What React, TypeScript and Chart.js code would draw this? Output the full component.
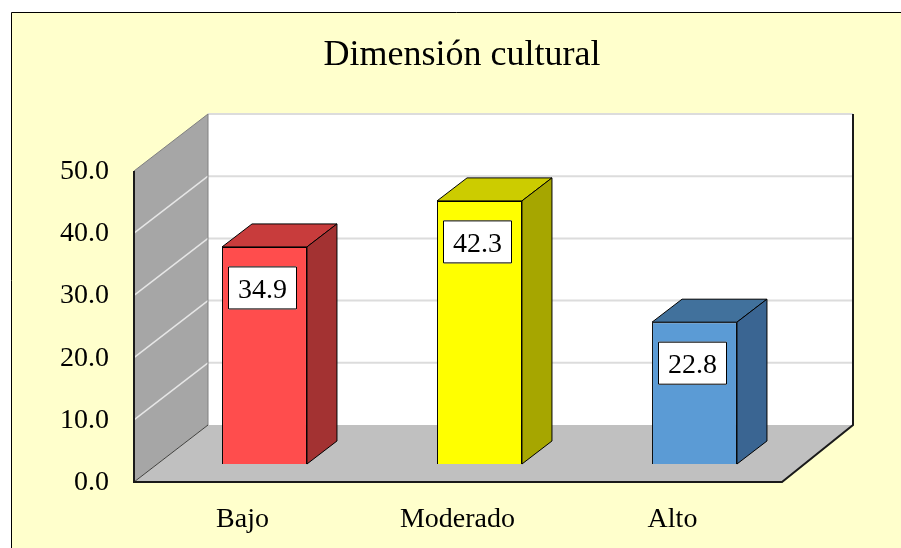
import React, { useEffect, useRef } from "react";
import { Chart, registerables } from "chart.js";

Chart.register(...registerables);

const TITLE = "Dimensión cultural";
const categories = ["Bajo", "Moderado", "Alto"];
const values = [34.9, 42.3, 22.8];
const yTicks = [0, 10, 20, 30, 40, 50];
const frontColors = ["#FF4D4D", "#FFFF00", "#5B9BD5"];
const topColors = ["#C83C3C", "#CCCC00", "#41719C"];
const sideColors = ["#A33232", "#A6A600", "#3A6592"];

const FONT = '"Times New Roman", "Liberation Serif", serif';
// depth offsets relative to the bar front plane
const FX = -23, FY = 18; // to front plane
const BX = 51, BY = -39; // to back wall plane
const DBX = 30, DBY = -23; // bar depth

const scenePlugin = {
  id: "scene3d",
  beforeDraw(chart: any) {
    const { ctx, width, height } = chart;
    ctx.save();
    ctx.fillStyle = "#FFFFFF";
    ctx.fillRect(0, 0, width, height);
    ctx.fillStyle = "#FFFFCC";
    ctx.fillRect(11, 12, width - 11, height - 12);
    ctx.strokeStyle = "#000";
    ctx.lineWidth = 1;
    ctx.beginPath();
    ctx.moveTo(11.5, height);
    ctx.lineTo(11.5, 12.5);
    ctx.lineTo(width, 12.5);
    ctx.stroke();
    ctx.fillStyle = "#000";
    ctx.font = `36px ${FONT}`;
    ctx.textAlign = "center";
    ctx.textBaseline = "alphabetic";
    ctx.fillText(TITLE, 462, 65);
    ctx.restore();
  },
  beforeDatasetsDraw(chart: any) {
    const { ctx, chartArea } = chart;
    const ys = chart.scales.y;
    const L = chartArea.left, R = chartArea.right;
    const yF = (v: number) => ys.getPixelForValue(v) + FY;
    const yB = (v: number) => ys.getPixelForValue(v) + BY;
    const xFL = L + FX, xFR = R + FX + 3;
    const xBL = L + BX, xBR = R + BX;
    const vMax = yTicks[yTicks.length - 1];
    ctx.save();
    // back wall
    ctx.fillStyle = "#FFFFFF";
    ctx.fillRect(xBL, yB(vMax), xBR - xBL, yB(0) - yB(vMax));
    ctx.lineWidth = 2;
    ctx.strokeStyle = "#DCDCDC";
    for (const v of yTicks) {
      if (v === 0) continue;
      ctx.beginPath();
      ctx.moveTo(xBL, yB(v));
      ctx.lineTo(xBR, yB(v));
      ctx.stroke();
    }
    // left wall
    ctx.fillStyle = "#A6A6A6";
    ctx.beginPath();
    ctx.moveTo(xFL, yF(vMax));
    ctx.lineTo(xBL, yB(vMax));
    ctx.lineTo(xBL, yB(0));
    ctx.lineTo(xFL, yF(0));
    ctx.closePath();
    ctx.fill();
    ctx.strokeStyle = "#E6E6E6";
    ctx.lineWidth = 1.5;
    for (const v of yTicks) {
      if (v === 0 || v === vMax) continue;
      ctx.beginPath();
      ctx.moveTo(xFL, yF(v));
      ctx.lineTo(xBL, yB(v));
      ctx.stroke();
    }
    ctx.strokeStyle = "#808080";
    ctx.lineWidth = 1;
    ctx.beginPath();
    ctx.moveTo(xFL, yF(vMax));
    ctx.lineTo(xBL, yB(vMax));
    ctx.lineTo(xBL, yB(0));
    ctx.stroke();
    // floor
    ctx.fillStyle = "#C0C0C0";
    ctx.beginPath();
    ctx.moveTo(xFL, yF(0));
    ctx.lineTo(xFR, yF(0));
    ctx.lineTo(xBR, yB(0));
    ctx.lineTo(xBL, yB(0));
    ctx.closePath();
    ctx.fill();
    ctx.strokeStyle = "#404040";
    ctx.lineWidth = 1;
    ctx.beginPath();
    ctx.moveTo(xFL, yF(0));
    ctx.lineTo(xBL, yB(0));
    ctx.stroke();
    // outlines
    ctx.strokeStyle = "#1A1A1A";
    ctx.lineWidth = 2;
    ctx.beginPath();
    ctx.moveTo(xFL, yF(vMax));
    ctx.lineTo(xFL, yF(0));
    ctx.lineTo(xFR, yF(0));
    ctx.lineTo(xBR, yB(0));
    ctx.lineTo(xBR, yB(vMax));
    ctx.stroke();
    // tick labels
    ctx.fillStyle = "#000";
    ctx.font = `28px ${FONT}`;
    ctx.textAlign = "right";
    ctx.textBaseline = "alphabetic";
    for (const v of yTicks) {
      ctx.fillText(v.toFixed(1), 109, yF(v) + 8);
    }
    // category labels
    const xs = chart.scales.x;
    ctx.textAlign = "center";
    categories.forEach((c, i) => {
      ctx.fillText(c, xs.getPixelForValue(i) + FX + 1, 527);
    });
    ctx.restore();
  },
  afterDatasetsDraw(chart: any) {
    const { ctx } = chart;
    const meta = chart.getDatasetMeta(0);
    ctx.save();
    ctx.lineWidth = 1;
    ctx.strokeStyle = "#000";
    ctx.lineJoin = "round";
    meta.data.forEach((bar: any, i: number) => {
      const { x, y, base, width } = bar.getProps(["x", "y", "base", "width"], true);
      const l = x - width / 2, r = x + width / 2;
      // top face
      ctx.fillStyle = topColors[i];
      ctx.beginPath();
      ctx.moveTo(l, y);
      ctx.lineTo(l + DBX, y + DBY);
      ctx.lineTo(r + DBX, y + DBY);
      ctx.lineTo(r, y);
      ctx.closePath();
      ctx.fill();
      ctx.stroke();
      // side face
      ctx.fillStyle = sideColors[i];
      ctx.beginPath();
      ctx.moveTo(r, y);
      ctx.lineTo(r + DBX, y + DBY);
      ctx.lineTo(r + DBX, base + DBY);
      ctx.lineTo(r, base);
      ctx.closePath();
      ctx.fill();
      ctx.stroke();
      // value label
      const cx = x - 2, cy = y + 41;
      const bw = 69, bh = 43;
      ctx.fillStyle = "#FFFFFF";
      ctx.fillRect(cx - bw / 2, cy - bh / 2, bw, bh);
      ctx.strokeRect(cx - bw / 2 + 0.5, cy - bh / 2 + 0.5, bw - 1, bh - 1);
      ctx.fillStyle = "#000";
      ctx.font = `28px ${FONT}`;
      ctx.textAlign = "center";
      ctx.textBaseline = "alphabetic";
      ctx.fillText(values[i].toFixed(1), cx, cy + 10);
    });
    ctx.restore();
  },
};

export default function App() {
  const ref = useRef<HTMLCanvasElement | null>(null);
  useEffect(() => {
    if (!ref.current) return;
    const chart = new Chart(ref.current, {
      type: "bar",
      data: {
        labels: categories,
        datasets: [
          {
            data: values,
            backgroundColor: frontColors,
            borderColor: "#000",
            borderWidth: 1,
            barPercentage: 0.395,
            categoryPercentage: 1,
          },
        ],
      },
      options: {
        responsive: false,
        animation: false,
        devicePixelRatio: 1,
        layout: { padding: { left: 157, right: 99, top: 153, bottom: 84 } },
        plugins: { legend: { display: false }, title: { display: false }, tooltip: { enabled: false } },
        scales: {
          x: { display: false, offset: true },
          y: { display: false, min: 0, max: 50 },
        },
      },
      plugins: [scenePlugin],
    });
    return () => chart.destroy();
  }, []);
  return (
    <div style={{ position: "fixed", left: 0, top: 0, width: 901, height: 548 }}>
      <canvas ref={ref} width={901} height={548} style={{ display: "block" }} />
    </div>
  );
}
